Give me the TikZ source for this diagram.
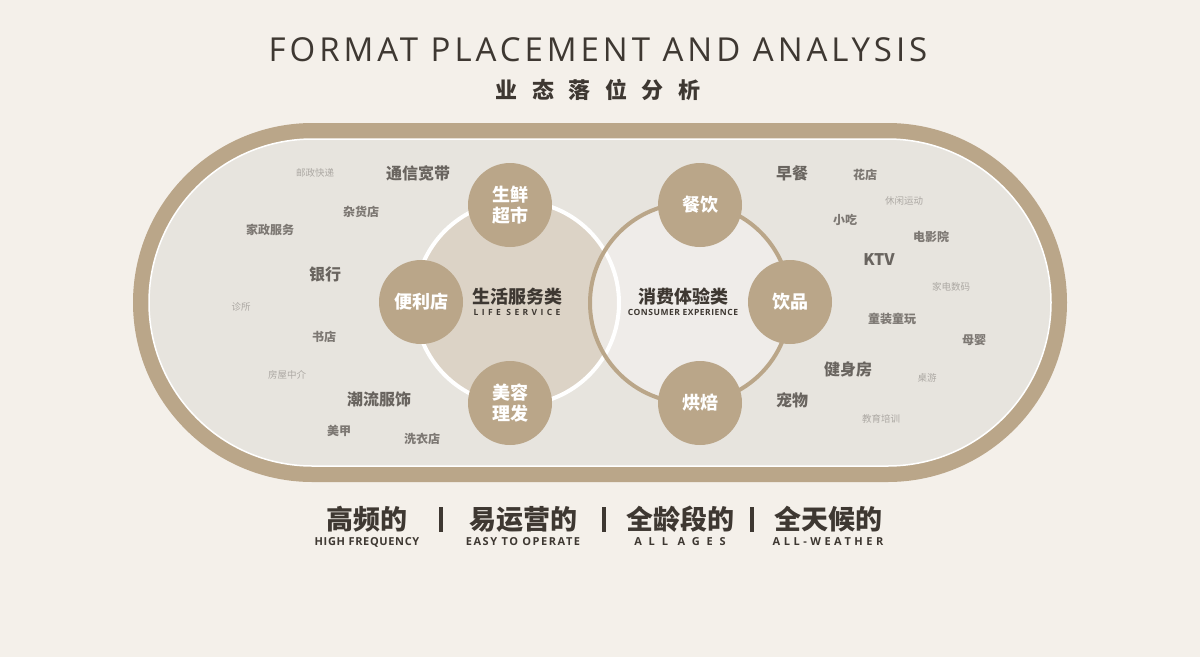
\documentclass[tikz,border=0pt]{standalone}
\usepackage{fontspec}
\setmainfont{Noto Sans CJK SC}
\newfontfamily\latin{Open Sans}
\usetikzlibrary{positioning}

\definecolor{paper}{RGB}{244,240,234}
\definecolor{tan}{RGB}{186,166,137}
\definecolor{field}{RGB}{231,228,222}
\definecolor{lifefill}{RGB}{220,211,198}
\definecolor{funfill}{RGB}{242,240,237}
\definecolor{ink}{RGB}{62,56,50}
\definecolor{tagdark}{RGB}{105,100,95}
\definecolor{tagmid}{RGB}{125,120,115}
\definecolor{taglight}{RGB}{172,168,163}

\begin{document}
\begin{tikzpicture}[x=1pt, y=-1pt,
    bubble/.style={circle, fill=tan, minimum size=84pt, inner sep=0pt, text=white, align=center, font=\bfseries\fontsize{18}{21}\selectfont},
    bigtag/.style={inner sep=0pt, text=tagdark, font=\bfseries\fontsize{16}{16}\selectfont},
    midtag/.style={inner sep=0pt, text=tagmid, font=\bfseries\fontsize{12}{12}\selectfont},
    smalltag/.style={inner sep=0pt, text=taglight, font=\fontsize{9.5}{10}\selectfont},
    hub/.style={inner sep=0pt, text=ink, font=\bfseries\fontsize{18}{18}\selectfont},
    huben/.style={inner sep=0pt, text=ink, font=\latin\bfseries\fontsize{8.5}{9}\selectfont\addfontfeatures{LetterSpace=#1}},
    claim/.style={inner sep=0pt, text=ink, font=\bfseries\fontsize{27}{27}\selectfont},
    claimen/.style={inner sep=0pt, text=ink, font=\latin\bfseries\fontsize{11}{11}\selectfont\addfontfeatures{LetterSpace=#1}},
    bar/.style={fill=ink, inner sep=0pt, minimum width=3.5pt, minimum height=25pt}
  ]
  \useasboundingbox (0,0) rectangle (1200,657);
  \fill [paper] (0,0) rectangle (1200,657);

  \node (title) [inner sep=0pt, text=ink, font=\latin\fontsize{33}{33}\selectfont\addfontfeatures{LetterSpace=12}] at (598,50) {FORMAT PLACEMENT AND ANALYSIS};
  \node (subtitle) [inner sep=0pt, text=ink, font=\bfseries\fontsize{22}{22}\selectfont\addfontfeatures{LetterSpace=66}, below=17pt of title] {业态落位分析};

  \fill [tan, rounded corners=179.5pt] (133,123) rectangle (1067,482);
  \filldraw [fill=field, draw=white, line width=1.5pt, rounded corners=163.5pt] (149,139) rectangle (1051,466);

  \fill [lifefill] (517,303) circle (102);
  \fill [funfill, opacity=0.75] (690,303) circle (100);
  \draw [white, line width=4pt] (517,303) circle (102);
  \draw [tan, line width=4pt] (690,303) circle (100);

  \node (fresh) [bubble] at (510,205) {生鲜\\超市};
  \node (conv) [bubble] at (421,302) {便利店};
  \node (beauty) [bubble] at (510,403) {美容\\理发};
  \node (dining) [bubble] at (700,205) {餐饮};
  \node (drinks) [bubble] at (790,302) {饮品};
  \node (bakery) [bubble] at (700,403) {烘焙};

  \node (life) [hub] at (517,297) {生活服务类};
  \node (lifeen) [huben=40, below=3pt of life] {LIFE SERVICE};
  \node (fun) [hub] at (683,297) {消费体验类};
  \node (funen) [huben=6, below=3pt of fun] {CONSUMER EXPERIENCE};

  \node (post) [smalltag] at (315,173) {邮政快递};
  \node (telecom) [bigtag] at (418,173) {通信宽带};
  \node (grocery) [midtag] at (361,212) {杂货店};
  \node (housekeeping) [midtag] at (270,230) {家政服务};
  \node (bank) [bigtag] at (325,274) {银行};
  \node (clinic) [smalltag] at (241,307) {诊所};
  \node (bookstore) [midtag] at (324,337) {书店};
  \node (realty) [smalltag] at (287,375) {房屋中介};
  \node (fashion) [bigtag] at (379,399) {潮流服饰};
  \node (nails) [midtag] at (339,431) {美甲};
  \node (laundry) [midtag] at (422,439) {洗衣店};

  \node (breakfast) [bigtag] at (792,173) {早餐};
  \node (florist) [midtag] at (865,175) {花店};
  \node (leisure) [smalltag] at (904,201) {休闲运动};
  \node (snack) [midtag] at (845,220) {小吃};
  \node (cinema) [midtag] at (931,237) {电影院};
  \node (ktv) [bigtag] at (879,260) {KTV};
  \node (digital) [smalltag] at (951,287) {家电数码};
  \node (kidswear) [midtag] at (892,319) {童装童玩};
  \node (baby) [midtag] at (974,340) {母婴};
  \node (gym) [bigtag] at (848,369) {健身房};
  \node (boardgame) [smalltag] at (927,378) {桌游};
  \node (pet) [bigtag] at (792,400) {宠物};
  \node (tutoring) [smalltag] at (881,419) {教育培训};

  \node (freq) [claim] at (367,519) {高频的};
  \node (freqen) [claimen=6, below=5pt of freq] {HIGH FREQUENCY};
  \node (bar1) [bar] at (441,519) {};
  \node (easy) [claim] at (523,519) {易运营的};
  \node (easyen) [claimen=14, below=5pt of easy] {EASY TO OPERATE};
  \node (bar2) [bar] at (604,519) {};
  \node (ages) [claim] at (680,519) {全龄段的};
  \node (agesen) [claimen=62, below=5pt of ages] {ALL AGES};
  \node (bar3) [bar] at (752,519) {};
  \node (weather) [claim] at (828,519) {全天候的};
  \node (weatheren) [claimen=32, below=5pt of weather] {ALL-WEATHER};
\end{tikzpicture}
\end{document}
